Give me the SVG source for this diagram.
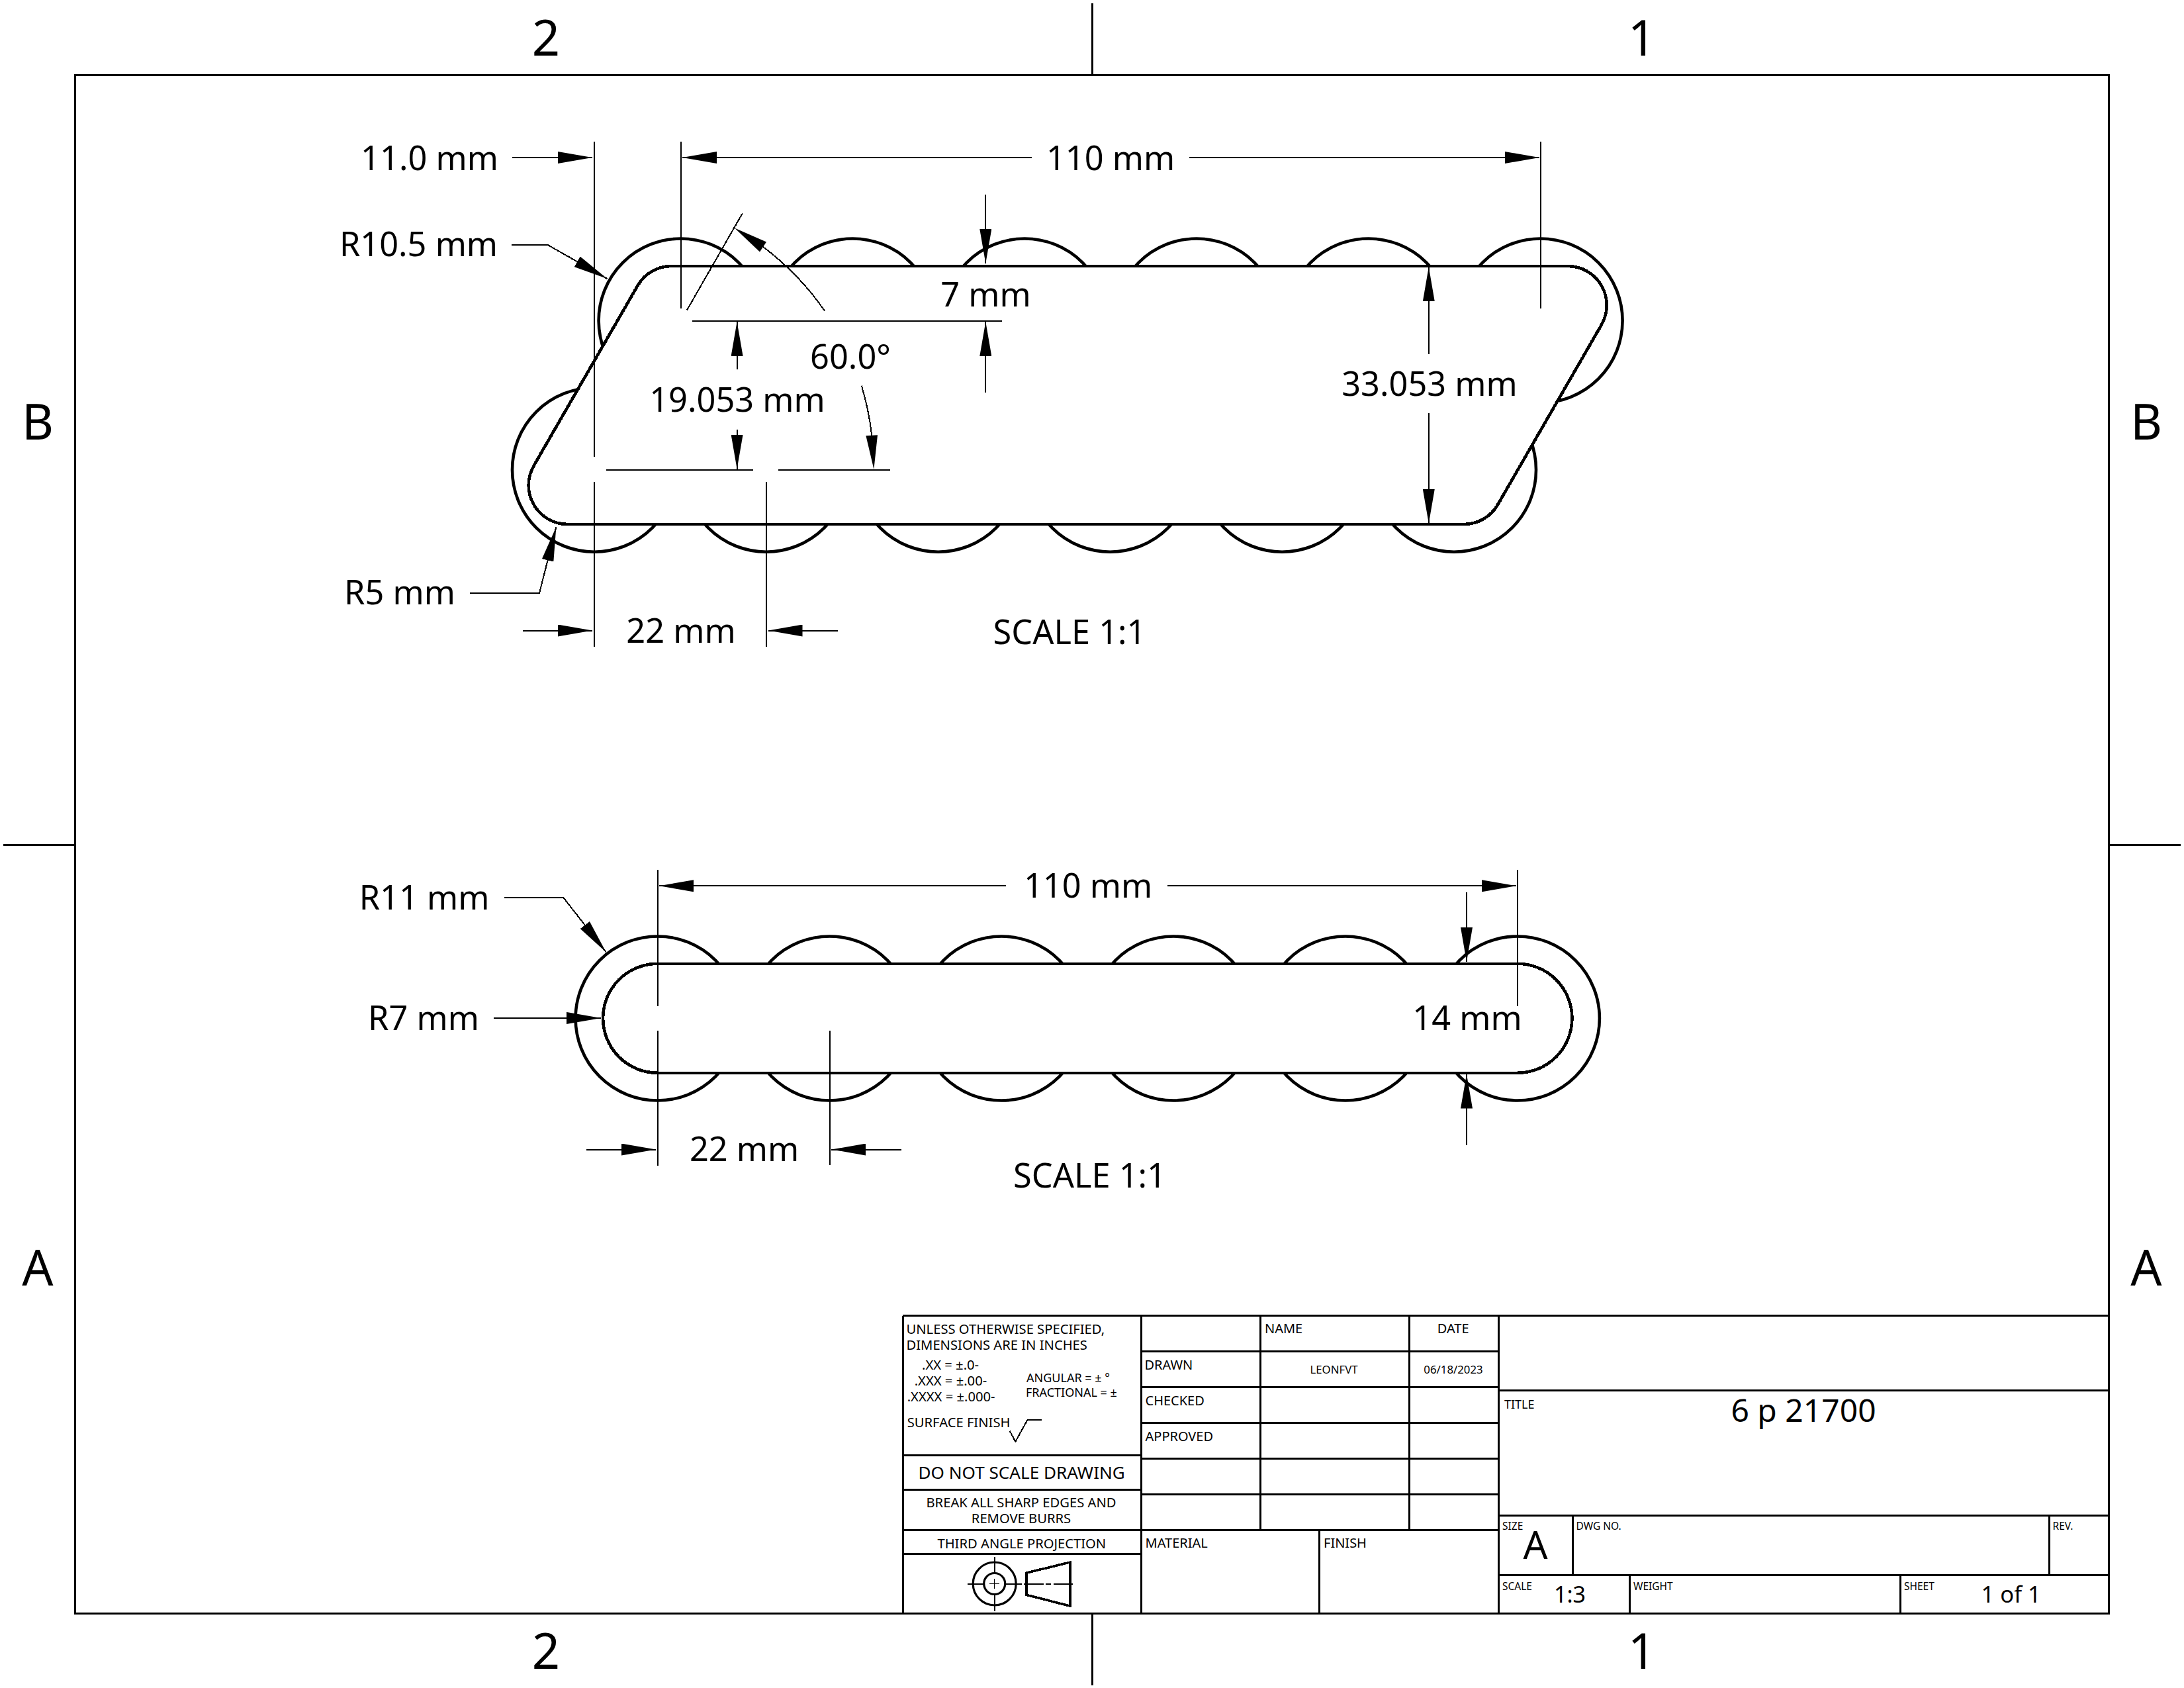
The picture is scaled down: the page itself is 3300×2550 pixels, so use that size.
<svg xmlns="http://www.w3.org/2000/svg" width="3300" height="2550" viewBox="0 0 3300 2550">
<style>
text{font-family:"Noto Sans","Open Sans","Liberation Sans",sans-serif;fill:#000}
.d{font-size:50.5px;text-anchor:middle}
.z{font-size:74px;text-anchor:middle}
.s{font-size:20.2px}
.u{font-size:20px}
.c{font-size:20.2px;text-anchor:middle}
.t{font-size:18px}
.x{font-size:15.5px}
line,path,polyline{fill:none;stroke:#000;shape-rendering:crispEdges}
.thin{stroke-width:2}
.frame{stroke-width:3}
.cell{stroke-width:3}
.arr{marker-end:url(#ah)}
circle{fill:#fff;stroke:#000;stroke-width:4.6}
.fillw{fill:#fff;stroke:#000;stroke-width:4.6}
.head{fill:#000;stroke:none}
</style>
<defs>
<marker id="ah" markerUnits="userSpaceOnUse" viewBox="0 0 52 18" refX="52" refY="9" markerWidth="52" markerHeight="18" orient="auto"><polygon points="0,0 52,9 0,18" fill="#000"/></marker>
</defs>
<rect width="3300" height="2550" fill="#fff"/>
<g id="sheet-frame">
<rect x="113.7" y="113.7" width="3072.6" height="2323.8" fill="none" stroke="#000" stroke-width="3" shape-rendering="crispEdges"/>
<path class="frame" d="M1650 5V113M1650 2439V2546M5 1276.5H113M3187 1276.5H3295"/>
<text class="z" x="825" y="84">2</text><text class="z" x="2481" y="84">1</text>
<text class="z" x="825" y="2521">2</text><text class="z" x="2481" y="2521">1</text>
<text class="z" x="57" y="664">B</text><text class="z" x="3243" y="664">B</text>
<text class="z" x="57" y="1941.5">A</text><text class="z" x="3243" y="1941.5">A</text>
</g>
<g id="view-parallelogram">
<circle cx="1028.6" cy="484.5" r="124"/><circle cx="1288.4" cy="484.5" r="124"/><circle cx="1548.2" cy="484.5" r="124"/><circle cx="1808" cy="484.5" r="124"/><circle cx="2067.8" cy="484.5" r="124"/><circle cx="2327.6" cy="484.5" r="124"/>
<circle cx="898" cy="709.7" r="124"/><circle cx="1157.8" cy="709.7" r="124"/><circle cx="1417.6" cy="709.7" r="124"/><circle cx="1677.4" cy="709.7" r="124"/><circle cx="1937.2" cy="709.7" r="124"/><circle cx="2197" cy="709.7" r="124"/>
<path class="fillw" d="M1014.5 402H2368.8A59 59 0 0 1 2419.9 490.5L2263 762.5A59 59 0 0 1 2212 792H857.7A59 59 0 0 1 806.6 703.5L963.5 431.5A59 59 0 0 1 1014.5 402Z"/>
<text class="d" x="1616" y="972.5">SCALE 1:1</text>
</g>
<g id="view-slot">
<circle cx="993.6" cy="1538.5" r="124"/><circle cx="1253.4" cy="1538.5" r="124"/><circle cx="1513.2" cy="1538.5" r="124"/><circle cx="1773" cy="1538.5" r="124"/><circle cx="2032.8" cy="1538.5" r="124"/><circle cx="2292.9" cy="1538.5" r="124"/>
<path class="fillw" d="M993.6 1455.8H2292.9A82.5 82.5 0 0 1 2292.9 1620.8H993.6A82.5 82.5 0 0 1 993.6 1455.8Z"/>
<text class="d" x="1646.5" y="1793.5">SCALE 1:1</text>
</g>
<g id="connectors">
<path class="thin" d="M898 213.6V690M898 728V977M1028.6 213.6V466M2327.8 213.6V465.6M1157.8 728V977M1046 484.6H1514M916 709.5H1138.4M1176 709.5H1345M1038 468.4L1121.7 322.5"/>
<line class="thin arr" x1="774" y1="238" x2="895" y2="238"/>
<line class="thin arr" x1="1559" y1="238" x2="1031" y2="238"/>
<line class="thin arr" x1="1796.6" y1="238" x2="2326" y2="238"/>
<line class="thin arr" x1="1489.3" y1="293.8" x2="1489.3" y2="398"/>
<line class="thin arr" x1="1489.3" y1="593" x2="1489.3" y2="486"/>
<line class="thin arr" x1="1113.6" y1="557.8" x2="1113.6" y2="486"/>
<line class="thin arr" x1="1113.6" y1="648.8" x2="1113.6" y2="708.5"/>
<path class="thin" d="M1246 469.4A422 422 0 0 0 1153 372.9"/>
<polygon class="head" points="1110,344.5 1148,380.5 1158,365.5"/>
<path class="thin" d="M1301.8 582.7A422 422 0 0 1 1317.2 657.7"/>
<polygon class="head" points="1320.4,709 1326,657.2 1308.4,658.2"/>
<polyline class="thin arr" points="772.8,369.6 827,369.6 917.4,421"/>
<polyline class="thin arr" points="709.8,896 815,896 840.4,796"/>
<line class="thin arr" x1="789.5" y1="952.5" x2="895" y2="952.5"/>
<line class="thin arr" x1="1266" y1="952.5" x2="1160.5" y2="952.5"/>
<line class="thin arr" x1="2158.8" y1="535" x2="2158.8" y2="403.3"/>
<line class="thin arr" x1="2158.8" y1="624.4" x2="2158.8" y2="790.8"/>
<g id="connectors-slot" transform="translate(0 1.5)">
<path class="thin" d="M993.6 1312V1518.6M993.6 1555V1759.3M1253.8 1555V1758.6M2292.9 1312V1518.6"/>
<line class="thin arr" x1="1519.5" y1="1336.8" x2="996" y2="1336.8"/>
<line class="thin arr" x1="1763.6" y1="1336.8" x2="2291" y2="1336.8"/>
<polyline class="thin arr" points="761.5,1354.6 851.4,1354.6 915.8,1437"/>
<line class="thin arr" x1="745.5" y1="1536.4" x2="908" y2="1536.4"/>
<line class="thin arr" x1="885.8" y1="1735" x2="991" y2="1735"/>
<line class="thin arr" x1="1362.2" y1="1735" x2="1256.4" y2="1735"/>
<line class="thin arr" x1="2216" y1="1346" x2="2216" y2="1451.4"/>
<line class="thin arr" x1="2216" y1="1728" x2="2216" y2="1621"/>
</g>
</g>
<g id="dimension-labels">
<text class="d" x="649" y="257">11.0 mm</text>
<text class="d" x="1678" y="257">110 mm</text>
<text class="d" x="632.5" y="386.5">R10.5 mm</text>
<text class="d" x="1489.5" y="463">7 mm</text>
<text class="d" x="1285" y="556.5">60.0°</text>
<text class="d" x="1114" y="621.5">19.053 mm</text>
<text class="d" x="2160" y="597.5">33.053 mm</text>
<text class="d" x="604" y="913.2">R5 mm</text>
<text class="d" x="1029" y="970.5">22 mm</text>
<text class="d" x="1644" y="1355.5">110 mm</text>
<text class="d" x="641" y="1373.5">R11 mm</text>
<text class="d" x="640" y="1555.8">R7 mm</text>
<text class="d" x="1124.6" y="1753.5">22 mm</text>
<text class="d" x="2217" y="1555.8">14 mm</text>
</g>
<g id="title-block" transform="translate(0 1.8)">
<path class="cell" d="M1364 1985.7V2435.7M1724 1985.7V2435.7M2264 1985.7V2435.7M1364 1985.7H3186M1364 2197H1724M1364 2249H1724M1364 2310H2264M1364 2346H1724M1724 2040H2264M1724 2094H2264M1724 2148H2264M1724 2201.7H2264M1724 2255.7H2264M1904.4 1985.7V2310M2129.4 1985.7V2310M1993.9 2310V2435.7M2264 2098.7H3186M2264 2288H3186M2264 2377.7H3186M2376 2288V2377.7M3096 2288V2377.7M2462 2377.7V2435.7M2871 2377.7V2435.7"/>
<text class="s" x="1369.5" y="2013.3">UNLESS OTHERWISE SPECIFIED,</text>
<text class="s" x="1369.5" y="2037.7">DIMENSIONS ARE IN INCHES</text>
<text class="s" x="1393" y="2067.7">.XX = ±.0-</text>
<text class="s" x="1381.7" y="2091.7">.XXX = ±.00-</text>
<text class="s" x="1370.7" y="2115.7">.XXXX = ±.000-</text>
<text class="t" x="1551" y="2086.7">ANGULAR = ± °</text>
<text class="t" x="1550" y="2108">FRACTIONAL = ±</text>
<text class="s" x="1370.7" y="2154">SURFACE FINISH</text>
<polyline class="thin" points="1525.7,2160 1534.3,2176 1552.7,2142.7 1574,2142.7"/>
<text x="1543.7" y="2232.3" font-size="26.1" text-anchor="middle">DO NOT SCALE DRAWING</text>
<text class="c" x="1543" y="2275.7">BREAK ALL SHARP EDGES AND</text>
<text class="c" x="1543" y="2299.7">REMOVE BURRS</text>
<text class="c" x="1543.8" y="2337.7">THIRD ANGLE PROJECTION</text>
<g id="projection-symbol">
<circle cx="1502.7" cy="2390.7" r="32.5" style="fill:none;stroke-width:3.2"/>
<circle cx="1502.7" cy="2390.7" r="16" style="fill:none;stroke-width:3.2"/>
<path class="thin" d="M1461.7 2390.7H1487M1518.5 2390.7H1544M1502.7 2349.7V2375M1502.7 2406.5V2432.3"/>
<path d="M1495 2390.7H1510.4M1502.7 2383V2398.4" stroke-width="1.4"/>
<path d="M1551 2374.3L1616.7 2358.3V2424.3L1551 2407.5Z" stroke-width="3.6"/>
<path class="thin" d="M1547.3 2390.7H1576.7M1580 2390.7H1588.3M1592.3 2390.7H1620.7"/>
</g>
<text class="u" x="1911" y="2012.7">NAME</text>
<text x="2195.7" y="2012.7" font-size="20" text-anchor="middle">DATE</text>
<text class="u" x="1729.5" y="2067">DRAWN</text>
<text x="2015.5" y="2073.3" font-size="16.8" text-anchor="middle">LEONFVT</text>
<text x="2196" y="2073.3" font-size="16.8" text-anchor="middle">06/18/2023</text>
<text class="u" x="1730.5" y="2121">CHECKED</text>
<text class="u" x="1730.5" y="2175">APPROVED</text>
<text class="u" x="1730.5" y="2336.7">MATERIAL</text>
<text class="u" x="2000" y="2336.7">FINISH</text>
<text class="t" x="2273" y="2126">TITLE</text>
<text x="2725" y="2146" font-size="48" text-anchor="middle">6 p 21700</text>
<text class="x" x="2270" y="2309.3">SIZE</text>
<text x="2320" y="2353.3" font-size="58" text-anchor="middle">A</text>
<text class="x" x="2381.5" y="2309.3">DWG NO.</text>
<text class="x" x="3101.5" y="2309.3">REV.</text>
<text class="x" x="2270" y="2400">SCALE</text>
<text x="2372" y="2419.3" font-size="34" text-anchor="middle">1:3</text>
<text class="x" x="2468" y="2400">WEIGHT</text>
<text class="x" x="2877" y="2400">SHEET</text>
<text x="3038.7" y="2419.3" font-size="34.5" text-anchor="middle">1 of 1</text>
</g>
</svg>
